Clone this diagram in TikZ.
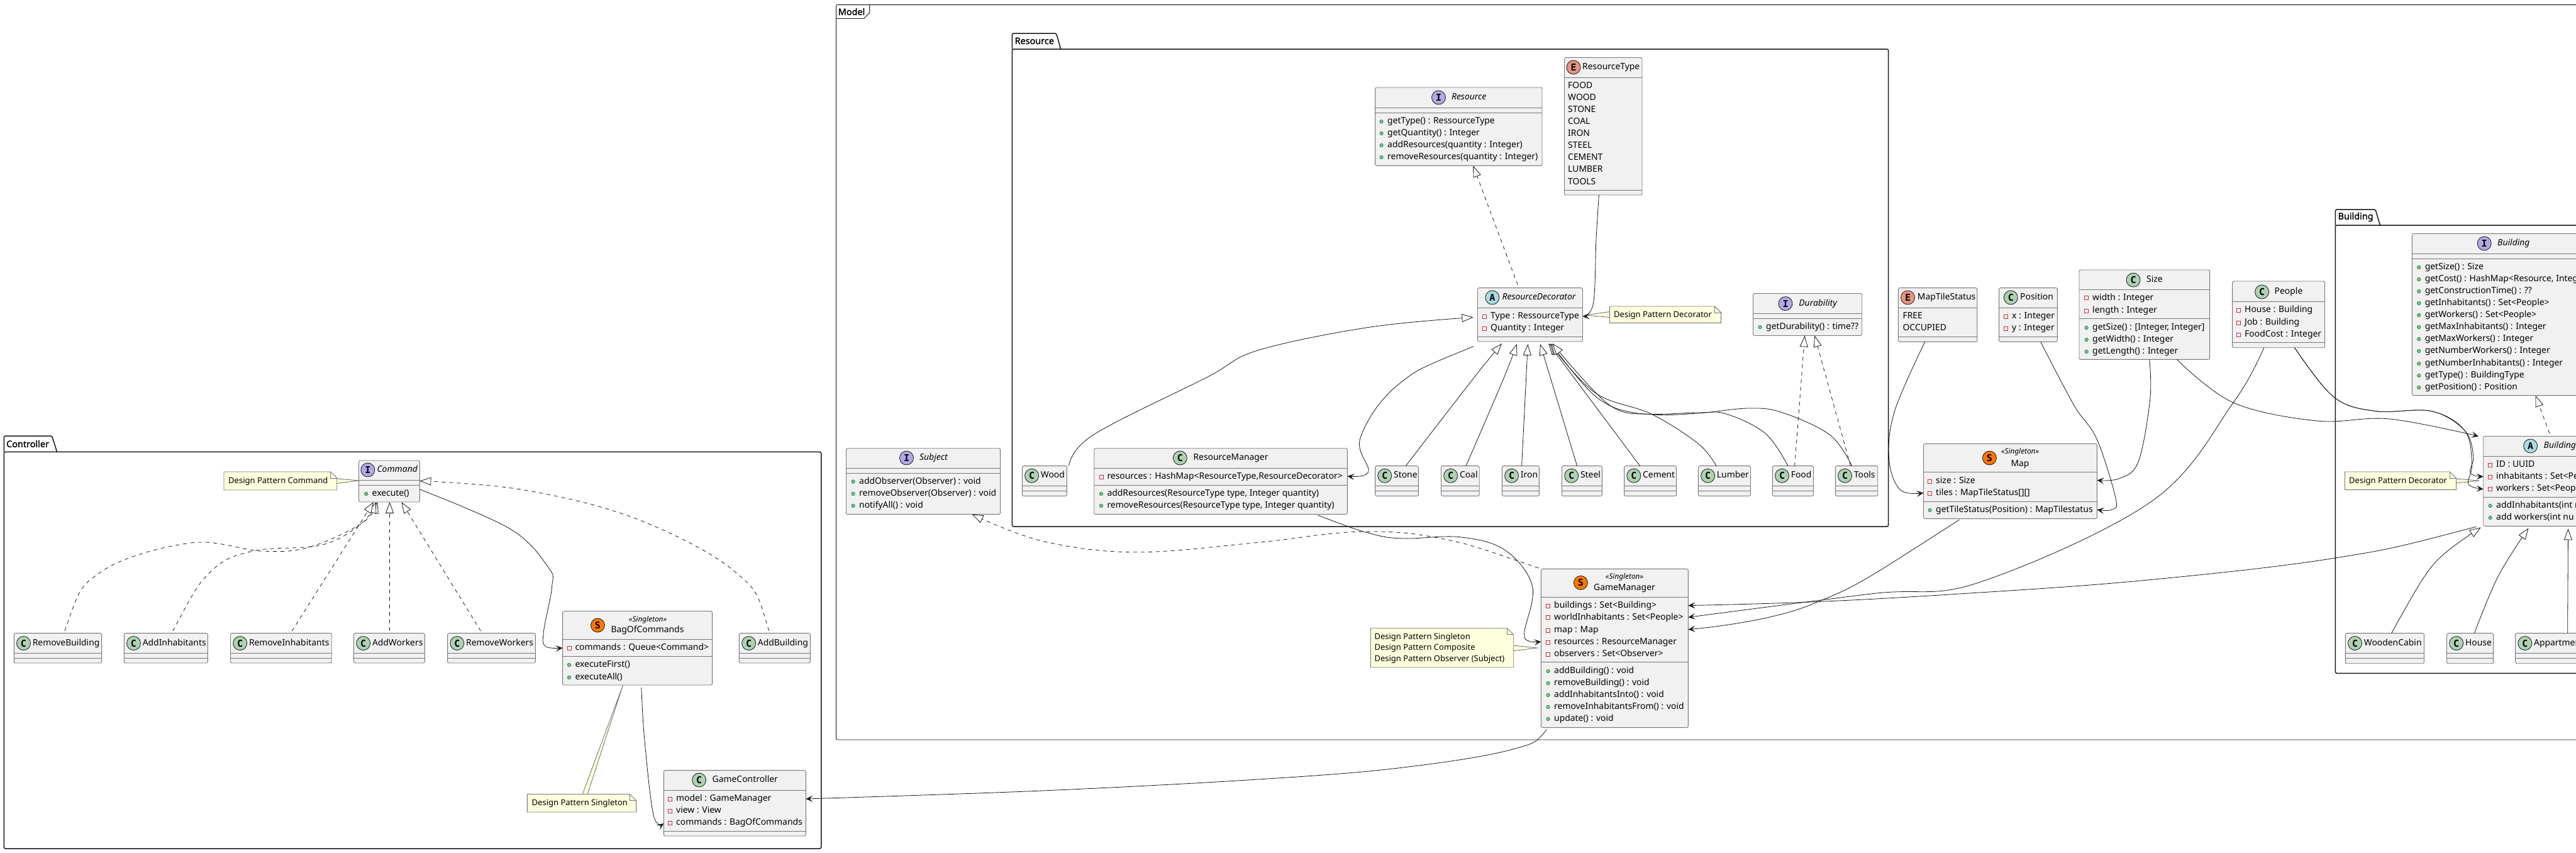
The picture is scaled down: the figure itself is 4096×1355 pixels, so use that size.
\documentclass[tikz,border=0pt]{standalone}
\usepackage{fontspec}
\setmainfont{Noto Sans}
\newfontfamily\iconfont{DejaVu Sans Mono}
\newfontfamily\pkgfont{Noto Sans}[FakeBold=1.6]
\usetikzlibrary{arrows.meta}

\definecolor{boxfill}{HTML}{F1F1F1}
\definecolor{boxline}{HTML}{777777}
\definecolor{notefill}{HTML}{FEFFDD}
\definecolor{linedark}{HTML}{181818}
\definecolor{classcol}{HTML}{ADD1B2}
\definecolor{ifacecol}{HTML}{B4A7E5}
\definecolor{abstcol}{HTML}{A9DCDF}
\definecolor{enumcol}{HTML}{EB937F}
\definecolor{singcol}{HTML}{FF7700}
\definecolor{publine}{HTML}{038048}
\definecolor{pubfill}{HTML}{84BE84}
\definecolor{privline}{HTML}{C82930}

\tikzset{
  boxV/.style     = {rectangle,draw=boxline,fill=boxfill,line width=0.9pt,rounded corners=2.5pt,inner sep=0pt,outer sep=0pt},
  sepV/.style     = {draw=boxline,line width=0.9pt},
  pkgV/.style     = {rectangle,draw=linedark,line width=1.5pt,rounded corners=2.5pt,inner sep=0pt,outer sep=0pt},
  tabV/.style     = {draw=linedark,line width=1.5pt,rounded corners=2.5pt},
  pkgT/.style     = {font=\pkgfont\fontsize{14.4}{16}\selectfont,inner sep=0pt},
  iconV/.style    = {circle,draw=linedark,line width=0.8pt,minimum size=22pt,inner sep=0pt,font=\iconfont\bfseries\fontsize{15}{15}\selectfont},
  iconC/.style    = {iconV,fill=classcol},
  iconI/.style    = {iconV,fill=ifacecol},
  iconA/.style    = {iconV,fill=abstcol},
  iconE/.style    = {iconV,fill=enumcol},
  iconS/.style    = {iconV,fill=singcol},
  titleV/.style   = {font=\fontsize{13.9}{16}\selectfont,inner sep=0pt,text height=10pt,text depth=3pt},
  titleI/.style   = {titleV,font=\fontsize{13.9}{16}\selectfont\itshape},
  stereoV/.style  = {font=\fontsize{11.8}{13}\selectfont\itshape,inner sep=0pt},
  membV/.style    = {anchor=west,font=\fontsize{13.9}{16}\selectfont,inner sep=0pt,text height=10pt,text depth=3pt},
  pubV/.style     = {circle,draw=publine,fill=pubfill,line width=0.6pt,minimum size=5.5pt,inner sep=0pt},
  privV/.style    = {rectangle,draw=privline,fill=white,line width=0.7pt,minimum size=6pt,inner sep=0pt},
  noteV/.style    = {draw=boxline,fill=notefill,line width=0.9pt},
  noteT/.style    = {anchor=west,font=\fontsize{13}{15}\selectfont,inner sep=0pt,text height=10pt,text depth=3pt},
  dep/.style      = {draw=linedark,line width=0.8pt,dash pattern=on 6pt off 6pt,-{Triangle[open,fill=white,length=18pt,width=13pt]}},
  gen/.style      = {draw=linedark,line width=0.8pt,-{Triangle[open,fill=white,length=18pt,width=13pt]}},
  ass/.style      = {draw=linedark,line width=0.8pt,-{Stealth[length=11pt,width=10pt,inset=5pt]}},
  sm/.style       = {smooth,tension=0.6}
}

% box with its two compartment lines
\newcommand{\classbox}[7]{%
  \path (#2,#3) node[boxV,anchor=north west,minimum width={(#4-#2)*1pt},minimum height={(#5-#3)*1pt}](#1) {};
  \draw[sepV] (#1.west |- 0,#6) -- (#1.east |- 0,#6);
  \draw[sepV] (#1.west |- 0,#7) -- (#1.east |- 0,#7);
}
% class without members
\newcommand{\plainclass}[8]{%
  \classbox{#1}{#2}{#3}{#4}{#5}{#6}{#7}
  \path ({#2+15.2},{(#3+#6)/2}) node[iconC](#1i) {C};
  \path ({#2+29.3},{(#3+#6)/2}) node[titleV,anchor=west](#1t) {#8};
}
\newcommand{\pubm}[4]{%
  \path (#2,#3) node[membV](#1) {#4};
  \path ({#2-9.4},#3) node[pubV](#1m) {};
}
\newcommand{\privm}[4]{%
  \path (#2,#3) node[membV](#1) {#4};
  \path ({#2-9.4},#3) node[privV](#1m) {};
}
\newcommand{\notebox}[5]{%
  \path (#2,#3) node[anchor=north west,inner sep=0pt,minimum width={(#4-#2)*1pt},minimum height={(#5-#3)*1pt}](#1) {};
  \draw[noteV] (#2,#3) -- ({#4-10},#3) -- (#4,{#3+10}) -- (#4,#5) -- (#2,#5) -- cycle;
  \draw[noteV,fill=none] ({#4-10},#3) -- ({#4-10},{#3+10}) -- (#4,{#3+10});
}

\begin{document}
\begin{tikzpicture}[x=1pt,y=-1pt]
  \useasboundingbox (0,0) rectangle (4096,1355);
  \clip (0,0) rectangle (4096,1355);

  % Packages
  \path (6.25,718.4) node[pkgV,anchor=north west,minimum width=1299.5pt,minimum height=630.6pt](controller) {};
  \draw[tabV] (controller.north west) |- (82.6,693) -- (90.6,718.4);
  \path (10,705.5) node[pkgT,anchor=west](controllerT) {Controller};
  \path (1329.5,7.6) node[pkgV,line width=0.9pt,anchor=north west,minimum width=2790pt,minimum height=1168.4pt](model) {};
  \draw[draw=linedark,line width=0.9pt] (model.north west |- 0,29.5) -- (1373.7,29.5) -- (1382.6,20) -- (1382.6,7.6);
  \path (1332.6,18.5) node[pkgT,anchor=west](modelT) {Model};
  \path (1609.4,78) node[pkgV,anchor=north west,minimum width=1393.3pt,minimum height=759pt](resource) {};
  \draw[tabV] (resource.north west) |- (1679.5,53) -- (1686.6,78);
  \path (1613.4,65) node[pkgT,anchor=west](resourceT) {Resource};
  \path (3713.4,358) node[pkgV,anchor=north west,minimum width=420pt,minimum height=712.4pt](building) {};
  \draw[tabV] (building.north west) |- (3777,333) -- (3784.4,358);
  \path (3717.4,345) node[pkgT,anchor=west](buildingT) {Building};

  % Controller
  \classbox{cmd}{570.5}{732}{667.4}{798}{763.6}{771}
  \path (584.8,747) node[iconI](cmdi) {I};
  \path (631.7,747) node[titleI](cmdt) {Command};
  \pubm{cmdA}{591.5}{785}{execute()}
  \plainclass{rmb}{22.3}{1006.6}{161.6}{1054}{1038.5}{1046}{RemoveBuilding}
  \plainclass{adi}{197.3}{1006.6}{330.4}{1054}{1038.5}{1046}{AddInhabitants}
  \plainclass{rminh}{366.5}{1006.6}{527.2}{1054}{1038.5}{1046}{RemoveInhabitants}
  \plainclass{adw}{562.5}{1006.6}{675.4}{1054}{1038.5}{1046}{AddWorkers}
  \plainclass{rmw}{711.6}{1006.6}{851.3}{1054}{1038.5}{1046}{RemoveWorkers}
  \plainclass{adb}{1175.4}{1006.6}{1288.4}{1054}{1038.5}{1046}{AddBuilding}
  \classbox{bag}{894.6}{971.5}{1132.6}{1089}{1016.7}{1043.6}
  \path (950.4,994) node[iconS](bagi) {S};
  \path (1030,985) node[stereoV](bags) {«Singleton»};
  \path (1029.5,1002) node[titleV](bagt) {BagOfCommands};
  \privm{bagA}{914.3}{1030}{commands : Queue<Command>}
  \pubm{bagB}{914.3}{1057}{executeFirst()}
  \pubm{bagC}{914.3}{1077}{executeAll()}
  \classbox{gc}{1055.4}{1224.6}{1281.3}{1329}{1256}{1321}
  \path (1111.6,1240) node[iconC](gci) {C};
  \path (1184.8,1240) node[titleV](gct) {GameController};
  \privm{gcA}{1075}{1270}{model : GameManager}
  \privm{gcB}{1075}{1289}{view : View}
  \privm{gcC}{1075}{1308}{commands : BagOfCommands}

  % Notes of the controller
  \draw[noteV] (535,760.8) -- (cmd.west |- 0,764) -- (535,768.6);
  \notebox{ncmd}{356}{750}{535.7}{779}
  \path (363,764.5) node[noteT](ncmdt) {Design Pattern Command};
  \draw[noteV] (926,1263) -- (990.6,0 |- bag.south) -- (934,1263);
  \notebox{nbag}{838.4}{1262.5}{1011.6}{1291}
  \path (845.5,1277) node[noteT](nbagt) {Design Pattern Singleton};

  % Resource
  \classbox{res}{2186.6}{139}{2452}{263.4}{171.4}{179.5}
  \path (2287.5,155) node[iconI](resi) {I};
  \path (2335.7,155) node[titleI](rest) {Resource};
  \pubm{resA}{2206}{193.3}{getType() : RessourceType}
  \pubm{resB}{2206}{212}{getQuantity() : Integer}
  \pubm{resC}{2206}{231}{addResources(quantity : Integer)}
  \pubm{resD}{2206}{250}{removeResources(quantity : Integer)}
  \classbox{rty}{2487.5}{91.5}{2611}{310}{123.7}{302}
  \path (2502,107) node[iconE](rtyi) {E};
  \path (2516,107) node[titleV,anchor=west](rtyt) {ResourceType};
  \path (2493,137) node[membV](rtyA) {FOOD};
  \path (2493,156) node[membV](rtyB) {WOOD};
  \path (2493,175) node[membV](rtyC) {STONE};
  \path (2493,194) node[membV](rtyD) {COAL};
  \path (2493,213) node[membV](rtyE) {IRON};
  \path (2493,232) node[membV](rtyF) {STEEL};
  \path (2493,251) node[membV](rtyG) {CEMENT};
  \path (2493,270) node[membV](rtyH) {LUMBER};
  \path (2493,290) node[membV](rtyI) {TOOLS};
  \classbox{rd}{2349.5}{457.6}{2516.5}{543}{489}{535}
  \path (2372.8,473) node[iconA](rdi) {A};
  \path (2447,473) node[titleI](rdt) {ResourceDecorator};
  \privm{rdA}{2370}{503}{Type : RessourceType}
  \privm{rdB}{2370}{522}{Quantity : Integer}
  \classbox{dur}{2787.5}{466.5}{2960.7}{533.5}{498.7}{506}
  \path (2839,482.6) node[iconI](duri) {I};
  \path (2890.6,482.6) node[titleI](durt) {Durability};
  \pubm{durA}{2808}{520}{getDurability() : time??}
  \plainclass{wood}{1625.4}{740.6}{1696.4}{788.5}{772}{780.5}{Wood}
  \classbox{rm}{1739.7}{712.7}{2142.4}{817.6}{744}{771.4}
  \path (1876.3,728) node[iconC](rmi) {C};
  \path (1897.3,728) node[titleV,anchor=west](rmt) {ResourceManager};
  \privm{rmA}{1760.3}{758}{resources : HashMap<ResourceType,ResourceDecorator>}
  \pubm{rmB}{1760.3}{785}{addResources(ResourceType type, Integer quantity)}
  \pubm{rmC}{1760.3}{804}{removeResources(ResourceType type, Integer quantity)}
  \plainclass{stone}{2186.6}{740.6}{2255.4}{788.5}{772}{780.5}{Stone}
  \plainclass{coal}{2291.5}{740.6}{2352.2}{788.5}{772}{780.5}{Coal}
  \plainclass{iron}{2388.4}{740.6}{2447.3}{788.5}{772}{780.5}{Iron}
  \plainclass{steel}{2483.5}{740.6}{2547.3}{788.5}{772}{780.5}{Steel}
  \plainclass{cement}{2582.6}{740.6}{2665.6}{788.5}{772}{780.5}{Cement}
  \plainclass{lumber}{2700.4}{740.6}{2783.5}{788.5}{772}{780.5}{Lumber}
  \plainclass{food}{2818.3}{740.6}{2883.5}{788.5}{772}{780.5}{Food}
  \plainclass{tools}{2918.3}{740.6}{2985.7}{788.5}{772}{780.5}{Tools}
  \draw[noteV] (2560,495.5) -- (2520,501) -- (2560,504.5);
  \notebox{nrd}{2559.4}{487}{2736.6}{513.4}
  \path (2566,500.5) node[noteT](nrdt) {Design Pattern Decorator};

  % Model
  \classbox{sub}{1345.5}{712.7}{1590.6}{817.6}{744}{752.6}
  \path (1441.5,728) node[iconI](subi) {I};
  \path (1484.4,728) node[titleI](subt) {Subject};
  \pubm{subA}{1366}{765.6}{addObserver(Observer) : void}
  \pubm{subB}{1366}{785}{removeObserver(Observer) : void}
  \pubm{subC}{1366}{804}{notifyAll() : void}
  \classbox{gm}{2450.4}{904.3}{2684.4}{1156.6}{949.5}{1052.6}
  \path (2513.4,926.4) node[iconS](gmi) {S};
  \path (2583,917.8) node[stereoV](gms) {«Singleton»};
  \path (2583,935) node[titleV](gmt) {GameManager};
  \privm{gmA}{2471}{963}{buildings : Set<Building>}
  \privm{gmB}{2471}{981.8}{worldInhabitants : Set<People>}
  \privm{gmC}{2471}{1002}{map : Map}
  \privm{gmD}{2471}{1021.3}{resources : ResourceManager}
  \privm{gmE}{2471}{1040}{observers : Set<Observer>}
  \pubm{gmF}{2471}{1067}{addBuilding() : void}
  \pubm{gmG}{2471}{1086}{removeBuilding() : void}
  \pubm{gmH}{2471}{1105}{addInhabitantsInto() : void}
  \pubm{gmI}{2471}{1124}{removeInhabitantsFrom() : void}
  \pubm{gmJ}{2471}{1143}{update() : void}
  \draw[noteV] (2406,1026) -- (2444,1030) -- (2406,1034.8);
  \notebox{ngm}{2179.5}{998.7}{2406.7}{1061}
  \path (2185.3,1012.6) node[noteT](ngmA) {Design Pattern Singleton};
  \path (2185.3,1030.4) node[noteT](ngmB) {Design Pattern Composite};
  \path (2185.3,1048) node[noteT](ngmC) {Design Pattern Observer (Subject)};
  \classbox{mts}{3018.3}{457.6}{3143.8}{543.3}{489.3}{535}
  \path (3033.5,473) node[iconE](mtsi) {E};
  \path (3048.7,473) node[titleV,anchor=west](mtst) {MapTileStatus};
  \path (3025.4,503) node[membV](mtsA) {FREE};
  \path (3025.4,522) node[membV](mtsB) {OCCUPIED};
  \classbox{pos}{3178.6}{457.6}{3271.4}{543.3}{489.3}{535}
  \path (3197.3,473) node[iconC](posi) {C};
  \path (3212,473) node[titleV,anchor=west](post) {Position};
  \privm{posA}{3199}{503}{x : Integer}
  \privm{posB}{3199}{522}{y : Integer}
  \classbox{size}{3306}{429}{3513.6}{571.4}{460}{506}
  \path (3392,445) node[iconC](sizei) {C};
  \path (3426,445) node[titleV](sizet) {Size};
  \privm{sizeA}{3327}{473.7}{width : Integer}
  \privm{sizeB}{3327}{494}{length : Integer}
  \pubm{sizeC}{3327}{521}{getSize() : [Integer, Integer]}
  \pubm{sizeD}{3327}{540}{getWidth() : Integer}
  \pubm{sizeE}{3327}{559}{getLength() : Integer}
  \classbox{ppl}{3549.6}{447}{3696.5}{552.7}{479.5}{544.6}
  \path (3596.6,464) node[iconC](ppli) {C};
  \path (3639,464) node[titleV](pplt) {People};
  \privm{pplA}{3569}{493}{House : Building}
  \privm{pplB}{3569}{513}{Job : Building}
  \privm{pplC}{3569}{532}{FoodCost : Integer}
  \classbox{map}{3058.5}{705.4}{3334.4}{824.6}{750.4}{797.3}
  \path (3163.4,728) node[iconS](mapi) {S};
  \path (3212,718.8) node[stereoV](maps) {«Singleton»};
  \path (3212,737.5) node[titleV](mapt) {Map};
  \privm{mapA}{3078}{765}{size : Size}
  \privm{mapB}{3078}{784}{tiles : MapTileStatus[][]}
  \pubm{mapC}{3078}{811}{getTileStatus(Position) : MapTilestatus}

  % Building
  \classbox{bif}{3835.4}{371.4}{4130}{628.6}{403.4}{411.4}
  \path (3950.2,387) node[iconI](bifi) {I};
  \path (3996.8,387) node[titleI](bift) {Building};
  \pubm{bifA}{3855.6}{425}{getSize() : Size}
  \pubm{bifB}{3855.6}{444}{getCost() : HashMap<Resource, Integ}
  \pubm{bifC}{3855.6}{463}{getConstructionTime() : ??}
  \pubm{bifD}{3855.6}{482}{getInhabitants() : Set<People>}
  \pubm{bifE}{3855.6}{501}{getWorkers() : Set<People>}
  \pubm{bifF}{3855.6}{520}{getMaxInhabitants() : Integer}
  \pubm{bifG}{3855.6}{539}{getMaxWorkers() : Integer}
  \pubm{bifH}{3855.6}{558}{getNumberWorkers() : Integer}
  \pubm{bifI}{3855.6}{578}{getNumberInhabitants() : Integer}
  \pubm{bifJ}{3855.6}{597}{getType() : BuildingType}
  \pubm{bifK}{3855.6}{616}{getPosition() : Position}
  \classbox{bd}{3948.7}{693.5}{4130}{836.3}{725.5}{790.3}
  \path (4023.6,709) node[iconA](bdi) {A};
  \path (4044.5,709) node[titleI,anchor=west](bdt) {Building};
  \privm{bdA}{3969}{739}{ID : UUID}
  \privm{bdB}{3969}{758}{inhabitants : Set<Pe}
  \privm{bdC}{3969}{777}{workers : Set<Peop}
  \pubm{bdD}{3969}{804}{addInhabitants(int n}
  \pubm{bdE}{3969}{823}{add workers(int nu}
  \plainclass{wdc}{3729.3}{1006.6}{3854.5}{1054.7}{1038.5}{1046.6}{WoodenCabin}
  \plainclass{hou}{3890.5}{1006.6}{3964.6}{1054.7}{1038.5}{1046.6}{House}
  \plainclass{app}{3999.6}{1006.6}{4130}{1054.7}{1038.5}{1046.6}{Appartmen}
  \draw[noteV] (3905,761) -- (3942.4,764.2) -- (3905,768);
  \notebox{nbd}{3728.5}{750}{3905.5}{778.6}
  \path (3735,764.5) node[noteT](nbdt) {Design Pattern Decorator};

  % Commands realize the interface
  \draw[dep,shorten <=4pt] plot[sm] coordinates {(101.8,0 |- rmb.north) (160.7,909) (303.6,863) (415,876) (491,870) (576,831.5) (600.4,0 |- cmd.south)};
  \draw[dep,shorten <=4pt] plot[sm] coordinates {(273,0 |- adi.north) (335,909) (402,876) (513,866) (576,831) (598,0 |- cmd.south)};
  \draw[dep,shorten <=4pt] (462,0 |- rminh.north) -- (594,0 |- cmd.south);
  \draw[dep,shorten <=4pt] (619.6,0 |- adw.north) -- (619.6,0 |- cmd.south);
  \draw[dep,shorten <=4pt] (766.5,0 |- rmw.north) -- (638.4,0 |- cmd.south);
  \draw[dep,shorten <=4pt] plot[sm] coordinates {(1223.7,0 |- adb.north) (1168.8,909) (1012.5,825) (834,779) (cmd.east |- 0,764.5)};
  \draw[ass] plot[sm] coordinates {(cmd.east |- 0,778) (811.6,841) (871.9,902) (877.7,932) (864.3,1005) (867.4,1027.6) (bag.west |- 0,1030)};
  \draw[ass,shorten <=4pt] plot[sm] coordinates {(1019.6,0 |- bag.south) (1025.9,1187) (1039.3,1296.6) (gc.west |- 0,1309)};
  \draw[ass,shorten <=4pt] plot[sm] coordinates {(2462,0 |- gm.south) (2401.8,1192) (2223,1221) (2000,1239) (1657,1257) (gc.east |- 0,1270)};

  % Resource links
  \draw[dep,shorten <=5pt] (2415,0 |- rd.north) -- (2342.4,0 |- res.south);
  \draw[ass] plot[sm] coordinates {(2542.4,0 |- rty.south) (2538,379.5) (2533.5,482) (rd.east |- 0,503)};
  \draw[gen,shorten >=7pt] plot[sm] coordinates {(1699.6,0 |- wood.north) (1738,691.5) (1918.7,600) (2000,557) (2178.6,520) (rd.west |- 0,504)};
  \draw[ass,shorten <=7pt] plot[sm] coordinates {(rd.west |- 0,548) (2223,611.6) (2163,696) (2176,750) (rm.east |- 0,757)};
  \draw[gen,shorten >=4pt] plot[sm] coordinates {(2235.3,0 |- stone.north) (2344,600) (2390.6,0 |- rd.south)};
  \draw[gen,shorten >=4pt] plot[sm] coordinates {(2331,0 |- coal.north) (2391.5,600) (2413,0 |- rd.south)};
  \draw[gen,shorten >=4pt] (2419.6,0 |- iron.north) -- (2429.5,0 |- rd.south);
  \draw[gen,shorten >=4pt] (2507.6,0 |- steel.north) -- (2447.8,0 |- rd.south);
  \draw[gen,shorten >=4pt] (2607.6,0 |- cement.north) -- (2459.8,0 |- rd.south);
  \draw[gen,shorten >=4pt] plot[sm] coordinates {(2729,0 |- lumber.north) (2700,705) (2625,657.8) (2535.7,624) (2462,0 |- rd.south)};
  \draw[gen,shorten >=4pt] plot[sm] coordinates {(2842.9,0 |- food.north) (2807,689) (2744.6,658) (2700,656) (2602.7,656.8) (2535.7,629) (2464,0 |- rd.south)};
  \draw[gen,shorten >=4pt] plot[sm] coordinates {(2944.6,0 |- tools.north) (2909.8,691.5) (2833.9,655.8) (2780,649) (2700,657) (2625,658.7) (2558,643) (2466,0 |- rd.south)};
  \draw[dep] (2853.6,0 |- food.north) -- (2869.6,0 |- dur.south);
  \draw[dep] (2942.4,0 |- tools.north) -- (2885.3,0 |- dur.south);

  % Links of the manager
  \draw[dep,shorten <=4pt] plot[sm] coordinates {(gm.north west) (2285.7,855) (2156,845.5) (2000,862.4) (1804.5,877.8) (1657,860) (1545.5,0 |- sub.south)};
  \draw[ass,shorten <=4pt] plot[sm] coordinates {(2091.5,0 |- rm.south) (2178.6,848) (2232,856) (2321.4,853.7) (2392.9,874.4) (2436.6,932) (2424,1004.4) (2430.8,1019) (gm.west |- 0,1020)};
  \draw[ass,shorten <=4pt] plot[sm] coordinates {(3941.5,0 |- bd.south) (3710.7,887.4) (3400,923.4) (3100,945) (2878.6,957) (gm.east |- 0,962.6)};
  \draw[ass] plot[sm] coordinates {(3599.7,0 |- ppl.south) (3551,640) (3422,796.4) (3146.4,926) (2976.8,943.8) (gm.east |- 0,981.3)};
  \draw[ass,shorten <=3pt] plot[sm] coordinates {(3117.9,0 |- map.south) (2878.6,961.6) (gm.east |- 0,1000.6)};

  % Links of the map and the buildings
  \draw[ass] plot[sm] coordinates {(3060.7,0 |- mts.south) (3012.5,653.6) (3003.6,729.5) (3021.4,778.6) (map.west |- 0,783.5)};
  \draw[ass] plot[sm] coordinates {(3244.6,0 |- pos.south) (3298,644.6) (3334,698) (3364,792) (3358.5,810) (map.east |- 0,810.3)};
  \draw[ass] plot[sm] coordinates {(3417.8,0 |- size.south) (3418.6,635.7) (3400,734) (3369.6,760.7) (map.east |- 0,763.4)};
  \draw[ass] plot[sm] coordinates {(3461.3,0 |- size.south) (3551,640) (3684,669) (3799.5,666) (3941,0 |- bd.north)};
  \draw[ass] plot[sm] coordinates {(3648.6,0 |- ppl.south) (3710.7,631) (3777.3,653.6) (3866,653.6) (3919.3,684.8) (3932.6,725) (3928,751.8) (bd.west |- 0,757.6)};
  \draw[ass] plot[sm] coordinates {(3648.6,0 |- ppl.south) (3710.7,631) (3777.3,653.6) (3866,653.6) (3919.3,684.8) (3930.4,738.4) (3925,769.6) (bd.west |- 0,777.3)};
  \draw[dep,shorten <=5pt] (4055.6,0 |- bd.north) -- (4031.6,0 |- bif.south);
  \draw[gen,shorten >=4pt] plot[sm] coordinates {(3802.6,0 |- wdc.north) (3852.7,919.8) (3888,879) (3948,0 |- bd.south)};
  \draw[gen,shorten >=4pt] plot[sm] coordinates {(3934.4,0 |- hou.north) (3972.6,915.3) (4022.7,0 |- bd.south)};
  \draw[gen,shorten >=4pt] (4082.6,0 |- app.north) -- (4083.5,0 |- bd.south);
\end{tikzpicture}
\end{document}
